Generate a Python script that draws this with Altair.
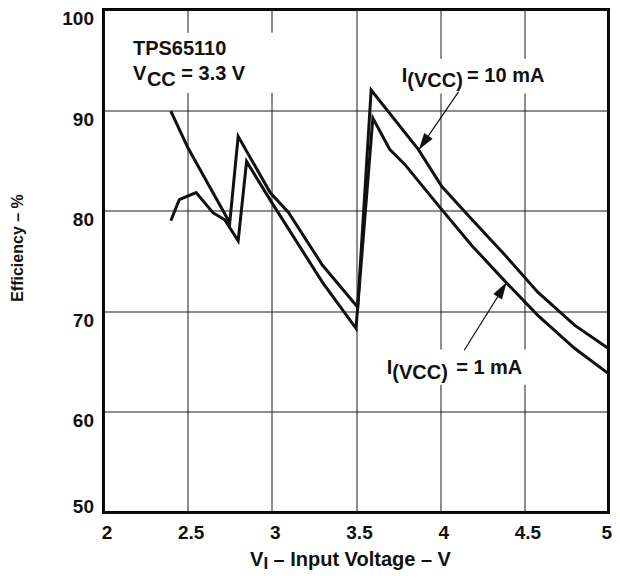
import altair as alt
import pandas as pd
import numpy as np

# ---- data ----
v_10mA = [2.40, 2.50, 2.57, 2.75, 2.80, 2.99, 3.10, 3.30, 3.51, 3.59, 3.87, 4.01, 4.19, 4.39, 4.58, 4.80, 5.00]
eff_10mA = [89.9, 86.3, 84.2, 78.8, 87.4, 81.8, 79.8, 74.6, 70.4, 92.0, 86.1, 82.4, 79.1, 75.5, 71.9, 68.6, 66.3]

v_1mA = [2.40, 2.45, 2.55, 2.65, 2.72, 2.80, 2.85, 3.00, 3.30, 3.50, 3.60, 3.70, 3.79, 3.99, 4.19, 4.39, 4.58, 4.80, 5.00]
eff_1mA = [79.0, 81.1, 81.8, 79.8, 79.1, 77.0, 84.9, 80.8, 72.9, 68.3, 89.2, 86.1, 84.6, 80.5, 76.5, 72.9, 69.6, 66.3, 63.8]

x_ticks = [2, 2.5, 3, 3.5, 4, 4.5, 5]
y_ticks = [50, 60, 70, 80, 90, 100]

series_names = ["I(VCC) = 10 mA", "I(VCC) = 1 mA"]

# annotation text pieces (text, x, y in data units)
ann_text = ["TPS65110", "V", "CC", "= 3.3 V",
            "I", "(VCC)", "= 10 mA",
            "I", "(VCC)", "= 1 mA"]
ann_x = [2.175, 2.175, 2.258, 2.462,
         3.772, 3.805, 4.160,
         3.683, 3.716, 4.095]
ann_y = [95.45, 92.98, 92.39, 92.98,
         92.84, 92.30, 92.84,
         63.81, 63.27, 63.81]

# white label backgrounds (x1, x2, y1, y2 in data units)
bg_x1 = [2.013, 3.75, 3.66]
bg_x2 = [3.06, 4.70, 4.53]
bg_y1 = [91.7, 91.65, 62.7]
bg_y2 = [97.7, 95.1, 66.2]

# arrows: tail -> tip (data units)
arr_x_tail = [4.109, 4.143]
arr_y_tail = [91.82, 66.13]
arr_x_tip = [3.873, 4.395]
arr_y_tip = [86.05, 72.88]

# ---- layout ----
W, H = 505, 503
FONT = "Liberation Sans"
INK = "#111111"

lines_df = pd.concat([
    pd.DataFrame({"v": v_10mA, "eff": eff_10mA, "series": series_names[0], "idx": range(len(v_10mA))}),
    pd.DataFrame({"v": v_1mA, "eff": eff_1mA, "series": series_names[1], "idx": range(len(v_1mA))}),
], ignore_index=True)

ann_df = pd.DataFrame({"text": ann_text, "v": ann_x, "eff": ann_y})
bg_df = pd.DataFrame({"v": bg_x1, "v2": bg_x2, "eff": bg_y1, "eff2": bg_y2})

sx = W / 3.0
sy = H / 50.0
dxp = (np.array(arr_x_tip) - np.array(arr_x_tail)) * sx
dyp = -(np.array(arr_y_tip) - np.array(arr_y_tail)) * sy
angles = (np.degrees(np.arctan2(dxp, -dyp)) + 360) % 360
arr_df = pd.DataFrame({"v": arr_x_tail, "eff": arr_y_tail, "v2": arr_x_tip, "eff2": arr_y_tip})
head_df = pd.DataFrame({"v": arr_x_tip, "eff": arr_y_tip, "angle": angles})

xscale = alt.Scale(domain=[2, 5], nice=False, zero=False)
yscale = alt.Scale(domain=[50, 100], nice=False, zero=False)

x_axis = alt.Axis(values=x_ticks, title="", labelOffset=3, labelPadding=11,
                  labelFlush=False, labelOverlap=False, labelBaseline="top",
                  labelAlign={"condition": {"test": "datum.value == 5", "value": "right"},
                              "value": "center"},
                  format="~g")
y_axis = alt.Axis(values=y_ticks, title="Efficiency – %", labelPadding=10,
                  labelAlign="right",
                  labelBaseline={"condition": {"test": "datum.value == 50", "value": "alphabetic"},
                                 "value": "top"},
                  titleX=-86, titleY=238, titleAngle=270, titleAlign="center",
                  titleBaseline="middle", titleFontSize=16, titleFontWeight="bold",
                  titleColor=INK)

X = lambda f: alt.X(f, scale=xscale, axis=x_axis)
Y = lambda f: alt.Y(f, scale=yscale, axis=y_axis)

bg = alt.Chart(bg_df).mark_rect(fill="white", strokeWidth=0).encode(
    x=X("v:Q"), x2="v2:Q", y=Y("eff:Q"), y2="eff2:Q",
)

lines = alt.Chart(lines_df).mark_line(
    color=INK, strokeWidth=3, strokeJoin="miter", strokeMiterLimit=4
).encode(
    x=X("v:Q"), y=Y("eff:Q"), detail="series:N", order="idx:Q",
)

arrows = alt.Chart(arr_df).mark_rule(color=INK, strokeWidth=1.2).encode(
    x=X("v:Q"), y=Y("eff:Q"), x2="v2:Q", y2="eff2:Q",
)

heads = alt.Chart(head_df).mark_point(
    shape="M0,0 L-0.6,2 L0.6,2 Z", filled=True, fill=INK, strokeWidth=0,
    size=290, opacity=1
).encode(
    x=X("v:Q"), y=Y("eff:Q"), angle=alt.Angle("angle:Q", scale=None),
)

ann = alt.Chart(ann_df).mark_text(
    align="left", baseline="alphabetic", font=FONT, fontWeight="bold",
    fontSize=20, color=INK
).encode(
    x=X("v:Q"), y=Y("eff:Q"), text="text:N",
)

def px_text(txt, px, py, fs):
    return alt.Chart(pd.DataFrame({"t": [txt]})).mark_text(
        align="left", baseline="alphabetic", font=FONT, fontWeight="bold",
        fontSize=fs, color=INK
    ).encode(x=alt.value(px), y=alt.value(py), text="t:N")

xt1 = px_text("V", 146.5, 556.5, 20)
xt2 = px_text("I", 160, 559, 17)
xt3 = px_text("– Input Voltage – V", 170, 556.5, 20)

chart = alt.layer(bg, lines, arrows, heads, ann, xt1, xt2, xt3).properties(
    width=W, height=H,
    padding={"left": 95.5, "top": 1.5, "right": 3.5, "bottom": 60.5},
    autosize=alt.AutoSizeParams(type="none"),
).configure(
    font=FONT,
).configure_view(
    stroke="black", strokeWidth=3,
).configure_axis(
    grid=True, gridColor="#1a1a1a", gridWidth=1, gridOpacity=1,
    domain=False, ticks=False, tickSize=0,
    labelFont=FONT, labelFontSize=19, labelFontWeight="bold", labelColor=INK,
    titleFont=FONT,
)

chart.save("out.html", embed_options={"renderer": "svg", "actions": False})
